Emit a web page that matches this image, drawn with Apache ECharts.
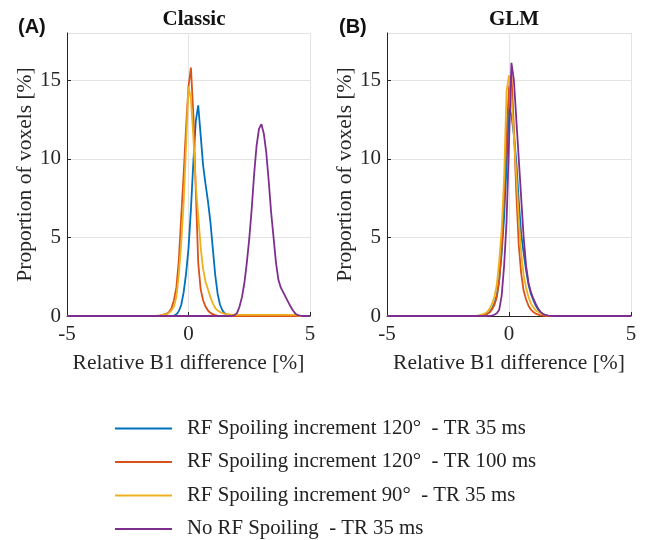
<!DOCTYPE html>
<html>
<head>
<meta charset="utf-8">
<script src="https://cdn.jsdelivr.net/npm/echarts@6/dist/echarts.min.js"></script>
<style>
html, body { margin: 0; padding: 0; background: #fff; }
#chart { width: 647px; height: 540px; }
</style>
</head>
<body>
<div id="chart"></div>
<script>
// legend names, shared by both panels
const seriesNames = [
  'RF Spoiling increment 120°  - TR 35 ms',
  'RF Spoiling increment 120°  - TR 100 ms',
  'RF Spoiling increment 90°  - TR 35 ms',
  'No RF Spoiling  - TR 35 ms'
]
const seriesColors = ['#0072BD', '#D95319', '#EDB120', '#7E2F8E']
const xTicks = [-5, 0, 5]
const yTicks = [0, 5, 10, 15]

// (A) Classic: relative B1 difference [%]
const classicX = [-5,
  -1.5, -1.4, -1.3, -1.2, -1.1, -1.0, -0.9, -0.8, -0.7, -0.6,
  -0.5, -0.4, -0.3, -0.2, -0.1, 0.0, 0.1, 0.2, 0.3, 0.4,
  0.5, 0.6, 0.7, 0.8, 0.9, 1.0, 1.1, 1.2, 1.3, 1.4,
  1.5, 1.6, 1.7, 1.8, 1.9, 2.0, 2.1, 2.2, 2.3, 2.4,
  2.5, 2.6, 2.7, 2.8, 2.9, 3.0, 3.1, 3.2, 3.3, 3.4,
  3.5, 3.6, 3.7, 3.8, 3.9, 4.0, 4.1, 4.2, 4.3, 4.4,
  4.5, 4.6, 4.7, 4.8, 4.9, 5.0]
const classicBlue = [0,
  0, 0, 0, 0, 0, 0, 0, 0, 0.01, 0.03,
  0.1, 0.3, 0.7, 1.5, 2.7, 4.3, 6.8, 9.8, 12.4, 13.4,
  11.5, 9.6, 8.4, 7.3, 6.0, 4.3, 2.6, 1.4, 0.7, 0.35,
  0.15, 0.07, 0.03, 0.01, 0, 0, 0, 0, 0, 0,
  0, 0, 0, 0, 0, 0, 0, 0, 0, 0,
  0, 0, 0, 0, 0, 0, 0, 0, 0, 0,
  0, 0, 0, 0, 0, 0]
const classicOrange = [0,
  0, 0, 0.01, 0.02, 0.05, 0.1, 0.15, 0.25, 0.5, 1.0,
  1.8, 3.5, 6.3, 9.0, 12.0, 14.6, 15.8, 12.8, 8.0, 3.4,
  1.7, 1.0, 0.6, 0.35, 0.2, 0.12, 0.06, 0.03, 0.01, 0,
  0, 0, 0, 0, 0, 0, 0, 0, 0, 0,
  0, 0, 0, 0, 0, 0, 0, 0, 0, 0,
  0, 0, 0, 0, 0, 0, 0, 0, 0, 0,
  0, 0, 0, 0, 0, 0]
const classicYellow = [0,
  0, 0.01, 0.02, 0.03, 0.05, 0.08, 0.12, 0.2, 0.35, 0.6,
  1.2, 2.6, 4.6, 7.2, 10.8, 14.6, 13.8, 11.4, 8.3, 6.4,
  4.4, 3.0, 2.2, 1.7, 1.2, 0.8, 0.5, 0.35, 0.25, 0.18,
  0.14, 0.12, 0.1, 0.09, 0.08, 0.08, 0.07, 0.07, 0.07, 0.07,
  0.07, 0.07, 0.07, 0.07, 0.07, 0.07, 0.07, 0.07, 0.07, 0.07,
  0.07, 0.07, 0.07, 0.07, 0.07, 0.07, 0.07, 0.07, 0.07, 0.07,
  0.03, 0, 0, 0, 0, 0]
const classicPurple = [0,
  0, 0, 0, 0, 0, 0, 0, 0, 0, 0,
  0, 0, 0, 0, 0, 0, 0, 0, 0, 0,
  0, 0, 0, 0, 0, 0, 0, 0, 0, 0,
  0, 0, 0, 0.01, 0.05, 0.2, 0.6, 1.2, 2.1, 3.4,
  4.9, 6.8, 9.0, 10.8, 11.9, 12.2, 11.6, 10.4, 8.6, 6.6,
  5.0, 3.4, 2.3, 1.8, 1.5, 1.2, 0.9, 0.6, 0.35, 0.15,
  0.05, 0.02, 0, 0, 0, 0]

// (B) GLM
const glmX = [-5,
  -1.5, -1.4, -1.3, -1.2, -1.1, -1.0, -0.9, -0.8, -0.7, -0.6,
  -0.5, -0.4, -0.3, -0.2, -0.1, 0.0, 0.1, 0.2, 0.3, 0.4,
  0.5, 0.6, 0.7, 0.8, 0.9, 1.0, 1.1, 1.2, 1.3, 1.4,
  1.5, 1.6, 1.7, 1.8, 1.9, 2.0, 5]
const glmBlue = [0,
  0, 0, 0.01, 0.02, 0.05, 0.1, 0.15, 0.25, 0.45, 0.8,
  1.3, 2.3, 4.0, 6.3, 9.6, 13.2, 12.8, 11.5, 9.8, 7.3,
  5.2, 4.0, 2.9, 2.0, 1.4, 1.0, 0.65, 0.4, 0.22, 0.12,
  0.06, 0.03, 0.01, 0, 0, 0, 0]
const glmOrange = [0,
  0, 0, 0.01, 0.02, 0.04, 0.08, 0.13, 0.22, 0.4, 0.7,
  1.2, 2.3, 4.3, 7.8, 11.5, 14.5, 15.3, 12.0, 7.8, 4.5,
  2.7, 1.6, 1.05, 0.65, 0.4, 0.25, 0.15, 0.08, 0.04, 0.02,
  0, 0, 0, 0, 0, 0, 0]
const glmYellow = [0,
  0, 0.01, 0.02, 0.05, 0.1, 0.15, 0.25, 0.45, 0.75, 1.2,
  2.0, 3.5, 5.5, 8.8, 14.3, 15.3, 13.8, 11.5, 9.0, 6.2,
  4.0, 2.6, 1.8, 1.2, 0.8, 0.55, 0.35, 0.25, 0.15, 0.1,
  0.06, 0.03, 0.01, 0, 0, 0, 0]
const glmPurple = [0,
  0, 0, 0, 0, 0, 0, 0, 0.01, 0.03, 0.08,
  0.18, 0.4, 1.3, 3.2, 6.0, 11.0, 16.1, 15.0, 12.5, 10.0,
  7.5, 5.0, 3.2, 2.1, 1.5, 1.1, 0.75, 0.45, 0.25, 0.12,
  0.05, 0.02, 0, 0, 0, 0, 0]

const classicY = [classicBlue, classicOrange, classicYellow, classicPurple]
const glmY = [glmBlue, glmOrange, glmYellow, glmPurple]

const serif = 'Liberation Serif'
const ink = '#262626'

function makeX (gridIndex) {
  return {
    type: 'value',
    gridIndex: gridIndex,
    min: xTicks[0],
    max: xTicks[xTicks.length - 1],
    interval: 5,
    name: 'Relative B1 difference [%]',
    nameLocation: 'middle',
    nameGap: 36,
    nameTextStyle: { fontFamily: serif, fontSize: 21.5, color: ink },
    axisLine: { onZero: false, lineStyle: { color: ink, width: 1 } },
    axisTick: { inside: true, length: 4, lineStyle: { color: ink } },
    axisLabel: { fontFamily: serif, fontSize: 21, color: ink, margin: 8 },
    splitLine: { show: true, lineStyle: { color: '#e3e3e3', width: 1 } }
  }
}

function makeY (gridIndex) {
  return {
    type: 'value',
    gridIndex: gridIndex,
    min: yTicks[0],
    max: 18,
    interval: 5,
    name: 'Proportion of voxels [%]',
    nameLocation: 'middle',
    nameGap: 30,
    nameTextStyle: { fontFamily: serif, fontSize: 21.5, color: ink },
    axisLine: { show: true, onZero: false, lineStyle: { color: ink, width: 1 } },
    axisTick: { show: true, inside: true, length: 4, lineStyle: { color: ink } },
    axisLabel: { fontFamily: serif, fontSize: 21, color: ink, margin: 6, showMaxLabel: false },
    splitLine: { show: true, lineStyle: { color: '#e3e3e3', width: 1 } }
  }
}

function makeSeries (xs, ys, idx) {
  return ys.map((vals, k) => ({
    name: seriesNames[k],
    type: 'line',
    xAxisIndex: idx,
    yAxisIndex: idx,
    symbol: 'none',
    color: seriesColors[k],
    lineStyle: { width: 1.8, color: seriesColors[k] },
    data: xs.map((x, i) => [x, vals[i]])
  }))
}

const chart = echarts.init(document.getElementById('chart'))
chart.setOption({
  animation: false,
  backgroundColor: '#fff',
  title: [
    { text: 'Classic', left: 189, top: 4, textAlign: 'center',
      textStyle: { fontFamily: serif, fontWeight: 'bold', fontSize: 21, color: '#111' } },
    { text: 'GLM', left: 509, top: 4, textAlign: 'center',
      textStyle: { fontFamily: serif, fontWeight: 'bold', fontSize: 21, color: '#111' } },
    { text: '(A)', left: 13, top: 12,
      textStyle: { fontFamily: 'Liberation Sans', fontWeight: 'bold', fontSize: 20, color: '#111' } },
    { text: '(B)', left: 334, top: 12,
      textStyle: { fontFamily: 'Liberation Sans', fontWeight: 'bold', fontSize: 20, color: '#111' } }
  ],
  grid: [
    { left: 67, top: 33, width: 243, height: 283 },
    { left: 387, top: 33, width: 244, height: 283 }
  ],
  xAxis: [makeX(0), makeX(1)],
  yAxis: [makeY(0), makeY(1)],
  legend: {
    orient: 'vertical',
    left: 115,
    top: 418,
    height: 130,
    padding: 0,
    icon: 'rect',
    itemWidth: 57,
    itemHeight: 2,
    itemGap: 12.5,
    data: seriesNames,
    textStyle: { fontFamily: serif, fontSize: 20.8, color: '#222', padding: [0, 0, 0, 10] }
  },
  series: makeSeries(classicX, classicY, 0).concat(makeSeries(glmX, glmY, 1))
})
</script>
</body>
</html>
